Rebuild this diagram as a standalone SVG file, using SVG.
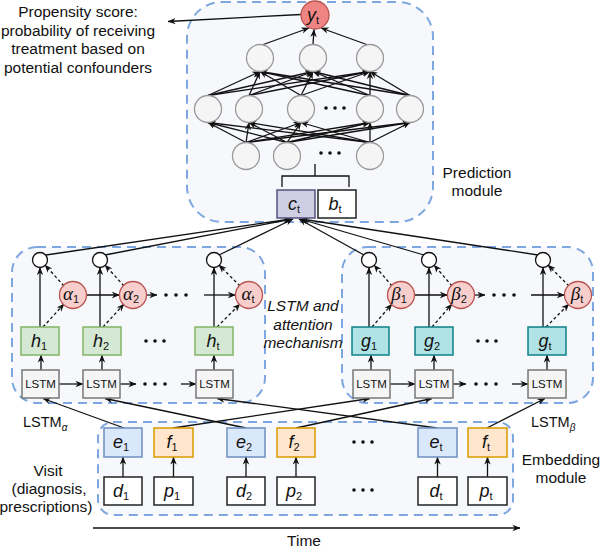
<svg xmlns="http://www.w3.org/2000/svg" width="600" height="549" viewBox="0 0 600 549">
<defs>
<marker id="a" viewBox="0 0 10 10" refX="9.5" refY="5" markerWidth="8" markerHeight="8" orient="auto" markerUnits="userSpaceOnUse"><path d="M0,1 L10,5 L0,9 L3,5 z" fill="#111"/></marker>
<style>
.dash{fill:#f6f8fb;stroke:#7ea6e0;stroke-width:2;stroke-dasharray:9 6}
.ln{stroke:#111;stroke-width:1.3;fill:none;marker-end:url(#a)}
.pl{stroke:#111;stroke-width:1.3;fill:none}
.dl{stroke:#111;stroke-width:1.3;fill:none;stroke-dasharray:3 2.5;marker-end:url(#a)}
.nc{fill:#f5f5f5;stroke:#9a9a9a;stroke-width:1.3}
.wc{fill:#fff;stroke:#111;stroke-width:1.3}
.rc{fill:#f8cecc;stroke:#b85450;stroke-width:1.3}
.lstm{fill:#f5f5f5;stroke:#777;stroke-width:1.5}
.hb{fill:#d5e8d4;stroke:#82b366;stroke-width:1.5}
.gb{fill:#b0e3e6;stroke:#0e8088;stroke-width:1.5}
.eb{fill:#dae8fc;stroke:#6c8ebf;stroke-width:1.5}
.fb{fill:#ffe6cc;stroke:#d79b00;stroke-width:1.5}
.wb{fill:#fff;stroke:#222;stroke-width:1.5}
.dot{fill:#111}
.t{font-family:"Liberation Sans",Arial,sans-serif;font-size:15.5px;fill:#111;text-anchor:middle}
.it{font-style:italic}
.lt{font-family:"Liberation Sans",Arial,sans-serif;font-size:11.5px;fill:#111;text-anchor:middle}
.m{font-family:"Liberation Sans",Arial,sans-serif;font-style:italic;font-size:18px;fill:#111;text-anchor:middle}
.g{font-family:"Liberation Serif",serif;font-style:italic;font-size:19px;fill:#111;text-anchor:middle}
.s{font-family:"Liberation Sans",Arial,sans-serif;font-size:11px;font-style:normal}
</style>
</defs>

<g id="containers">
<rect id="prediction-module" class="dash" x="187" y="2" width="246" height="220" rx="35"/>
<rect id="attention-alpha" class="dash" x="12" y="247" width="253" height="156" rx="25"/>
<rect id="attention-beta" class="dash" x="342" y="247" width="251" height="156" rx="25"/>
<rect id="embedding-module" class="dash" x="98" y="422" width="415" height="93" rx="15"/>
</g>

<g id="connectors">
<line class="ln" x1="246" y1="142.5" x2="208" y2="122.5"/>
<line class="ln" x1="246" y1="142.5" x2="249" y2="122.5"/>
<line class="ln" x1="246" y1="142.5" x2="301" y2="122.5"/>
<line class="ln" x1="246" y1="142.5" x2="370" y2="122.5"/>
<line class="ln" x1="246" y1="142.5" x2="410" y2="122.5"/>
<line class="ln" x1="287" y1="142.5" x2="208" y2="122.5"/>
<line class="ln" x1="287" y1="142.5" x2="249" y2="122.5"/>
<line class="ln" x1="287" y1="142.5" x2="301" y2="122.5"/>
<line class="ln" x1="287" y1="142.5" x2="370" y2="122.5"/>
<line class="ln" x1="287" y1="142.5" x2="410" y2="122.5"/>
<line class="ln" x1="370" y1="142.5" x2="208" y2="122.5"/>
<line class="ln" x1="370" y1="142.5" x2="249" y2="122.5"/>
<line class="ln" x1="370" y1="142.5" x2="301" y2="122.5"/>
<line class="ln" x1="370" y1="142.5" x2="370" y2="122.5"/>
<line class="ln" x1="370" y1="142.5" x2="410" y2="122.5"/>
<line class="ln" x1="208" y1="95.5" x2="260" y2="71.5"/>
<line class="ln" x1="208" y1="95.5" x2="313" y2="71.5"/>
<line class="ln" x1="208" y1="95.5" x2="370" y2="71.5"/>
<line class="ln" x1="249" y1="95.5" x2="260" y2="71.5"/>
<line class="ln" x1="249" y1="95.5" x2="313" y2="71.5"/>
<line class="ln" x1="249" y1="95.5" x2="370" y2="71.5"/>
<line class="ln" x1="301" y1="95.5" x2="260" y2="71.5"/>
<line class="ln" x1="301" y1="95.5" x2="313" y2="71.5"/>
<line class="ln" x1="301" y1="95.5" x2="370" y2="71.5"/>
<line class="ln" x1="370" y1="95.5" x2="260" y2="71.5"/>
<line class="ln" x1="370" y1="95.5" x2="313" y2="71.5"/>
<line class="ln" x1="370" y1="95.5" x2="370" y2="71.5"/>
<line class="ln" x1="410" y1="95.5" x2="260" y2="71.5"/>
<line class="ln" x1="410" y1="95.5" x2="313" y2="71.5"/>
<line class="ln" x1="410" y1="95.5" x2="370" y2="71.5"/>
<line class="ln" x1="262" y1="45" x2="309" y2="28"/>
<line class="ln" x1="313" y1="44.5" x2="314" y2="29.5"/>
<line class="ln" x1="368" y1="45" x2="321" y2="28"/>
<line class="ln" x1="301" y1="14.5" x2="168" y2="21.5"/>
<path class="pl" d="M315,164 V176 M282,187 V176 H349 V187"/>
<line class="ln" x1="46" y1="255" x2="291" y2="219"/>
<line class="ln" x1="105" y1="255" x2="292" y2="219"/>
<line class="ln" x1="219" y1="255" x2="293" y2="219"/>
<line class="ln" x1="364" y1="255" x2="299" y2="219"/>
<line class="ln" x1="424" y1="255" x2="300" y2="219"/>
<line class="ln" x1="538" y1="255" x2="301" y2="219"/>
<line class="ln" x1="40" y1="327" x2="40" y2="267.5"/>
<line class="ln" x1="100" y1="327" x2="100" y2="267.5"/>
<line class="ln" x1="214" y1="327" x2="214" y2="267.5"/>
<line class="dl" x1="43" y1="327" x2="64" y2="304"/>
<line class="dl" x1="64" y1="286" x2="45" y2="265"/>
<line class="dl" x1="103" y1="327" x2="124" y2="304"/>
<line class="dl" x1="124" y1="286" x2="105" y2="265"/>
<line class="dl" x1="217" y1="327" x2="240" y2="304"/>
<line class="dl" x1="240" y1="286" x2="219" y2="265"/>
<line class="ln" x1="86.5" y1="295" x2="119.5" y2="295"/>
<line class="ln" x1="146.5" y1="295" x2="157" y2="295"/>
<line class="ln" x1="204" y1="295" x2="235.5" y2="295"/>
<line class="ln" x1="41" y1="370" x2="41" y2="355"/>
<line class="ln" x1="102" y1="370" x2="102" y2="355"/>
<line class="ln" x1="214" y1="370" x2="214" y2="355"/>
<line class="ln" x1="59" y1="384" x2="83" y2="384"/>
<line class="ln" x1="120" y1="384" x2="136" y2="384"/>
<line class="ln" x1="181" y1="384" x2="196" y2="384"/>
<line class="ln" x1="369" y1="327" x2="369" y2="267.5"/>
<line class="ln" x1="429" y1="327" x2="429" y2="267.5"/>
<line class="ln" x1="543" y1="327" x2="543" y2="267.5"/>
<line class="dl" x1="372" y1="327" x2="392" y2="304"/>
<line class="dl" x1="392" y1="286" x2="374" y2="265"/>
<line class="dl" x1="432" y1="327" x2="452" y2="304"/>
<line class="dl" x1="452" y1="286" x2="434" y2="265"/>
<line class="dl" x1="546" y1="327" x2="569" y2="304"/>
<line class="dl" x1="569" y1="286" x2="548" y2="265"/>
<line class="ln" x1="414.5" y1="295" x2="447.5" y2="295"/>
<line class="ln" x1="474.5" y1="295" x2="485" y2="295"/>
<line class="ln" x1="531" y1="295" x2="564.5" y2="295"/>
<line class="ln" x1="371" y1="370" x2="371" y2="355"/>
<line class="ln" x1="434" y1="370" x2="434" y2="355"/>
<line class="ln" x1="547" y1="370" x2="547" y2="355"/>
<line class="ln" x1="390" y1="384" x2="415" y2="384"/>
<line class="ln" x1="453" y1="384" x2="466" y2="384"/>
<line class="ln" x1="512" y1="384" x2="528" y2="384"/>
<line class="ln" x1="124" y1="428" x2="43" y2="398.5"/>
<line class="ln" x1="246" y1="428" x2="105" y2="398.5"/>
<line class="ln" x1="437" y1="428" x2="217" y2="398.5"/>
<line class="ln" x1="173" y1="428" x2="370" y2="398.5"/>
<line class="ln" x1="296" y1="428" x2="432" y2="398.5"/>
<line class="ln" x1="487" y1="428" x2="545" y2="398.5"/>
<line class="ln" x1="123" y1="477" x2="123" y2="457"/>
<line class="ln" x1="173.5" y1="477" x2="173.5" y2="457"/>
<line class="ln" x1="246" y1="477" x2="246" y2="457"/>
<line class="ln" x1="296" y1="477" x2="296" y2="457"/>
<line class="ln" x1="437.5" y1="477" x2="437.5" y2="457"/>
<line class="ln" x1="487.5" y1="477" x2="487.5" y2="457"/>
<line class="ln" x1="93" y1="528" x2="520" y2="528"/>
</g>

<g id="network">
<circle class="nc" cx="246" cy="156" r="13.5"/>
<circle class="nc" cx="287" cy="156" r="13.5"/>
<circle class="nc" cx="370" cy="156" r="13.5"/>
<circle class="dot" cx="321" cy="153" r="1.8"/><circle class="dot" cx="330" cy="153" r="1.8"/><circle class="dot" cx="339" cy="153" r="1.8"/>
<circle class="nc" cx="208" cy="109" r="13.5"/>
<circle class="nc" cx="249" cy="109" r="13.5"/>
<circle class="nc" cx="301" cy="109" r="13.5"/>
<circle class="nc" cx="370" cy="109" r="13.5"/>
<circle class="nc" cx="410" cy="109" r="13.5"/>
<circle class="dot" cx="326" cy="108" r="1.8"/><circle class="dot" cx="335" cy="108" r="1.8"/><circle class="dot" cx="344" cy="108" r="1.8"/>
<circle class="nc" cx="260" cy="58" r="13.5"/>
<circle class="nc" cx="313" cy="58" r="13.5"/>
<circle class="nc" cx="370" cy="58" r="13.5"/>
</g>
<g id="y_t">
<circle cx="315" cy="15" r="14" fill="#ee8583" stroke="#b85450" stroke-width="1.3"/>
<text class="m" x="313" y="21">y<tspan class="s" dy="3">t</tspan></text>
</g>
<g id="c_t">
<rect x="277" y="190" width="38" height="28" fill="#d0cee2" stroke="#56517e" stroke-width="1.5"/>
<text class="m" x="294" y="210">c<tspan class="s" dy="3">t</tspan></text>
</g>
<g id="b_t">
<rect class="wb" x="318" y="190" width="38" height="28"/>
<text class="m" x="335" y="210">b<tspan class="s" dy="3">t</tspan></text>
</g>

<g id="attention-alpha-nodes">
<circle class="wc" cx="40" cy="260" r="7.5"/>
<circle class="wc" cx="100" cy="260" r="7.5"/>
<circle class="wc" cx="214" cy="260" r="7.5"/>
<circle class="rc" cx="73" cy="295" r="13.5"/>
<text class="g" x="71" y="300">α<tspan class="s" dy="3">1</tspan></text>
<circle class="rc" cx="133" cy="295" r="13.5"/>
<text class="g" x="131" y="300">α<tspan class="s" dy="3">2</tspan></text>
<circle class="dot" cx="166" cy="295" r="1.8"/><circle class="dot" cx="176" cy="295" r="1.8"/><circle class="dot" cx="186" cy="295" r="1.8"/>
<circle class="rc" cx="249" cy="295" r="13.5"/>
<text class="g" x="248" y="300">α<tspan class="s" dy="3">t</tspan></text>
<rect class="hb" x="21" y="327" width="38" height="28"/>
<text class="m" x="39" y="347">h<tspan class="s" dy="3">1</tspan></text>
<rect class="hb" x="83" y="327" width="38" height="28"/>
<text class="m" x="101" y="347">h<tspan class="s" dy="3">2</tspan></text>
<circle class="dot" cx="146" cy="341" r="1.8"/><circle class="dot" cx="155" cy="341" r="1.8"/><circle class="dot" cx="164" cy="341" r="1.8"/>
<rect class="hb" x="195" y="327" width="38" height="28"/>
<text class="m" x="213" y="347">h<tspan class="s" dy="3">t</tspan></text>
<rect class="lstm" x="22" y="370" width="37" height="28"/>
<text class="lt" x="40.5" y="388">LSTM</text>
<rect class="lstm" x="83" y="370" width="37" height="28"/>
<text class="lt" x="101.5" y="388">LSTM</text>
<circle class="dot" cx="145" cy="384" r="1.8"/><circle class="dot" cx="155" cy="384" r="1.8"/><circle class="dot" cx="165" cy="384" r="1.8"/>
<rect class="lstm" x="196" y="370" width="37" height="28"/>
<text class="lt" x="214.5" y="388">LSTM</text>
</g>

<g id="attention-beta-nodes">
<circle class="wc" cx="369" cy="260" r="7.5"/>
<circle class="wc" cx="429" cy="260" r="7.5"/>
<circle class="wc" cx="543" cy="260" r="7.5"/>
<circle class="rc" cx="401" cy="295" r="13.5"/>
<text class="g" x="399" y="300">β<tspan class="s" dy="3">1</tspan></text>
<circle class="rc" cx="461" cy="295" r="13.5"/>
<text class="g" x="459" y="300">β<tspan class="s" dy="3">2</tspan></text>
<circle class="dot" cx="494" cy="295" r="1.8"/><circle class="dot" cx="504" cy="295" r="1.8"/><circle class="dot" cx="514" cy="295" r="1.8"/>
<circle class="rc" cx="578" cy="295" r="13.5"/>
<text class="g" x="577" y="300">β<tspan class="s" dy="3">t</tspan></text>
<rect class="gb" x="352" y="327" width="37" height="28"/>
<text class="m" x="369" y="347">g<tspan class="s" dy="3">1</tspan></text>
<rect class="gb" x="415" y="327" width="38" height="28"/>
<text class="m" x="432" y="347">g<tspan class="s" dy="3">2</tspan></text>
<circle class="dot" cx="478" cy="341" r="1.8"/><circle class="dot" cx="487" cy="341" r="1.8"/><circle class="dot" cx="496" cy="341" r="1.8"/>
<rect class="gb" x="528" y="327" width="38" height="28"/>
<text class="m" x="545" y="347">g<tspan class="s" dy="3">t</tspan></text>
<rect class="lstm" x="353" y="370" width="37" height="28"/>
<text class="lt" x="371.5" y="388">LSTM</text>
<rect class="lstm" x="415" y="370" width="38" height="28"/>
<text class="lt" x="434" y="388">LSTM</text>
<circle class="dot" cx="476" cy="384" r="1.8"/><circle class="dot" cx="486" cy="384" r="1.8"/><circle class="dot" cx="496" cy="384" r="1.8"/>
<rect class="lstm" x="528" y="370" width="38" height="28"/>
<text class="lt" x="547" y="388">LSTM</text>
</g>

<g id="embedding-nodes">
<rect class="eb" x="104" y="428" width="38" height="29"/>
<text class="m" x="121" y="448">e<tspan class="s" dy="3">1</tspan></text>
<rect class="fb" x="154" y="428" width="39" height="29"/>
<text class="m" x="172" y="448">f<tspan class="s" dy="3">1</tspan></text>
<rect class="eb" x="227" y="428" width="38" height="29"/>
<text class="m" x="244" y="448">e<tspan class="s" dy="3">2</tspan></text>
<rect class="fb" x="277" y="428" width="38" height="29"/>
<text class="m" x="294" y="448">f<tspan class="s" dy="3">2</tspan></text>
<circle class="dot" cx="354" cy="442" r="1.8"/><circle class="dot" cx="363" cy="442" r="1.8"/><circle class="dot" cx="372" cy="442" r="1.8"/>
<rect class="eb" x="418" y="428" width="39" height="29"/>
<text class="m" x="436" y="448">e<tspan class="s" dy="3">t</tspan></text>
<rect class="fb" x="468" y="428" width="39" height="29"/>
<text class="m" x="486" y="448">f<tspan class="s" dy="3">t</tspan></text>
<rect class="wb" x="104" y="477" width="38" height="28"/>
<text class="m" x="121" y="497">d<tspan class="s" dy="3">1</tspan></text>
<rect class="wb" x="154" y="477" width="39" height="28"/>
<text class="m" x="172" y="497">p<tspan class="s" dy="3">1</tspan></text>
<rect class="wb" x="227" y="477" width="38" height="28"/>
<text class="m" x="244" y="497">d<tspan class="s" dy="3">2</tspan></text>
<rect class="wb" x="277" y="477" width="38" height="28"/>
<text class="m" x="294" y="497">p<tspan class="s" dy="3">2</tspan></text>
<circle class="dot" cx="354" cy="490" r="1.8"/><circle class="dot" cx="363" cy="490" r="1.8"/><circle class="dot" cx="372" cy="490" r="1.8"/>
<rect class="wb" x="418" y="477" width="39" height="28"/>
<text class="m" x="436" y="497">d<tspan class="s" dy="3">t</tspan></text>
<rect class="wb" x="468" y="477" width="39" height="28"/>
<text class="m" x="486" y="497">p<tspan class="s" dy="3">t</tspan></text>
</g>

<g id="labels">
<text class="t" x="78" y="17">Propensity score:</text>
<text class="t" x="78" y="35.5">probability of receiving</text>
<text class="t" x="78" y="54">treatment based on</text>
<text class="t" x="78" y="72.5">potential confounders</text>
<text class="t" x="477" y="178">Prediction</text>
<text class="t" x="477" y="196">module</text>
<text class="t it" x="303" y="311">LSTM and</text>
<text class="t it" x="303" y="329.5">attention</text>
<text class="t it" x="303" y="348">mechanism</text>
<text class="t" x="23" y="427" style="text-anchor:start;font-size:14.5px">LSTM<tspan class="it" font-size="10" dy="4">α</tspan></text>
<text class="t" x="531" y="427" style="text-anchor:start;font-size:14.5px">LSTM<tspan class="it" font-size="10" dy="4">β</tspan></text>
<text class="t" x="48" y="476">Visit</text>
<text class="t" x="49" y="494">(diagnosis,</text>
<text class="t" x="46" y="512">prescriptions)</text>
<text class="t" x="561" y="465">Embedding</text>
<text class="t" x="561" y="483">module</text>
<text class="t" x="304" y="546">Time</text>
</g>
</svg>
